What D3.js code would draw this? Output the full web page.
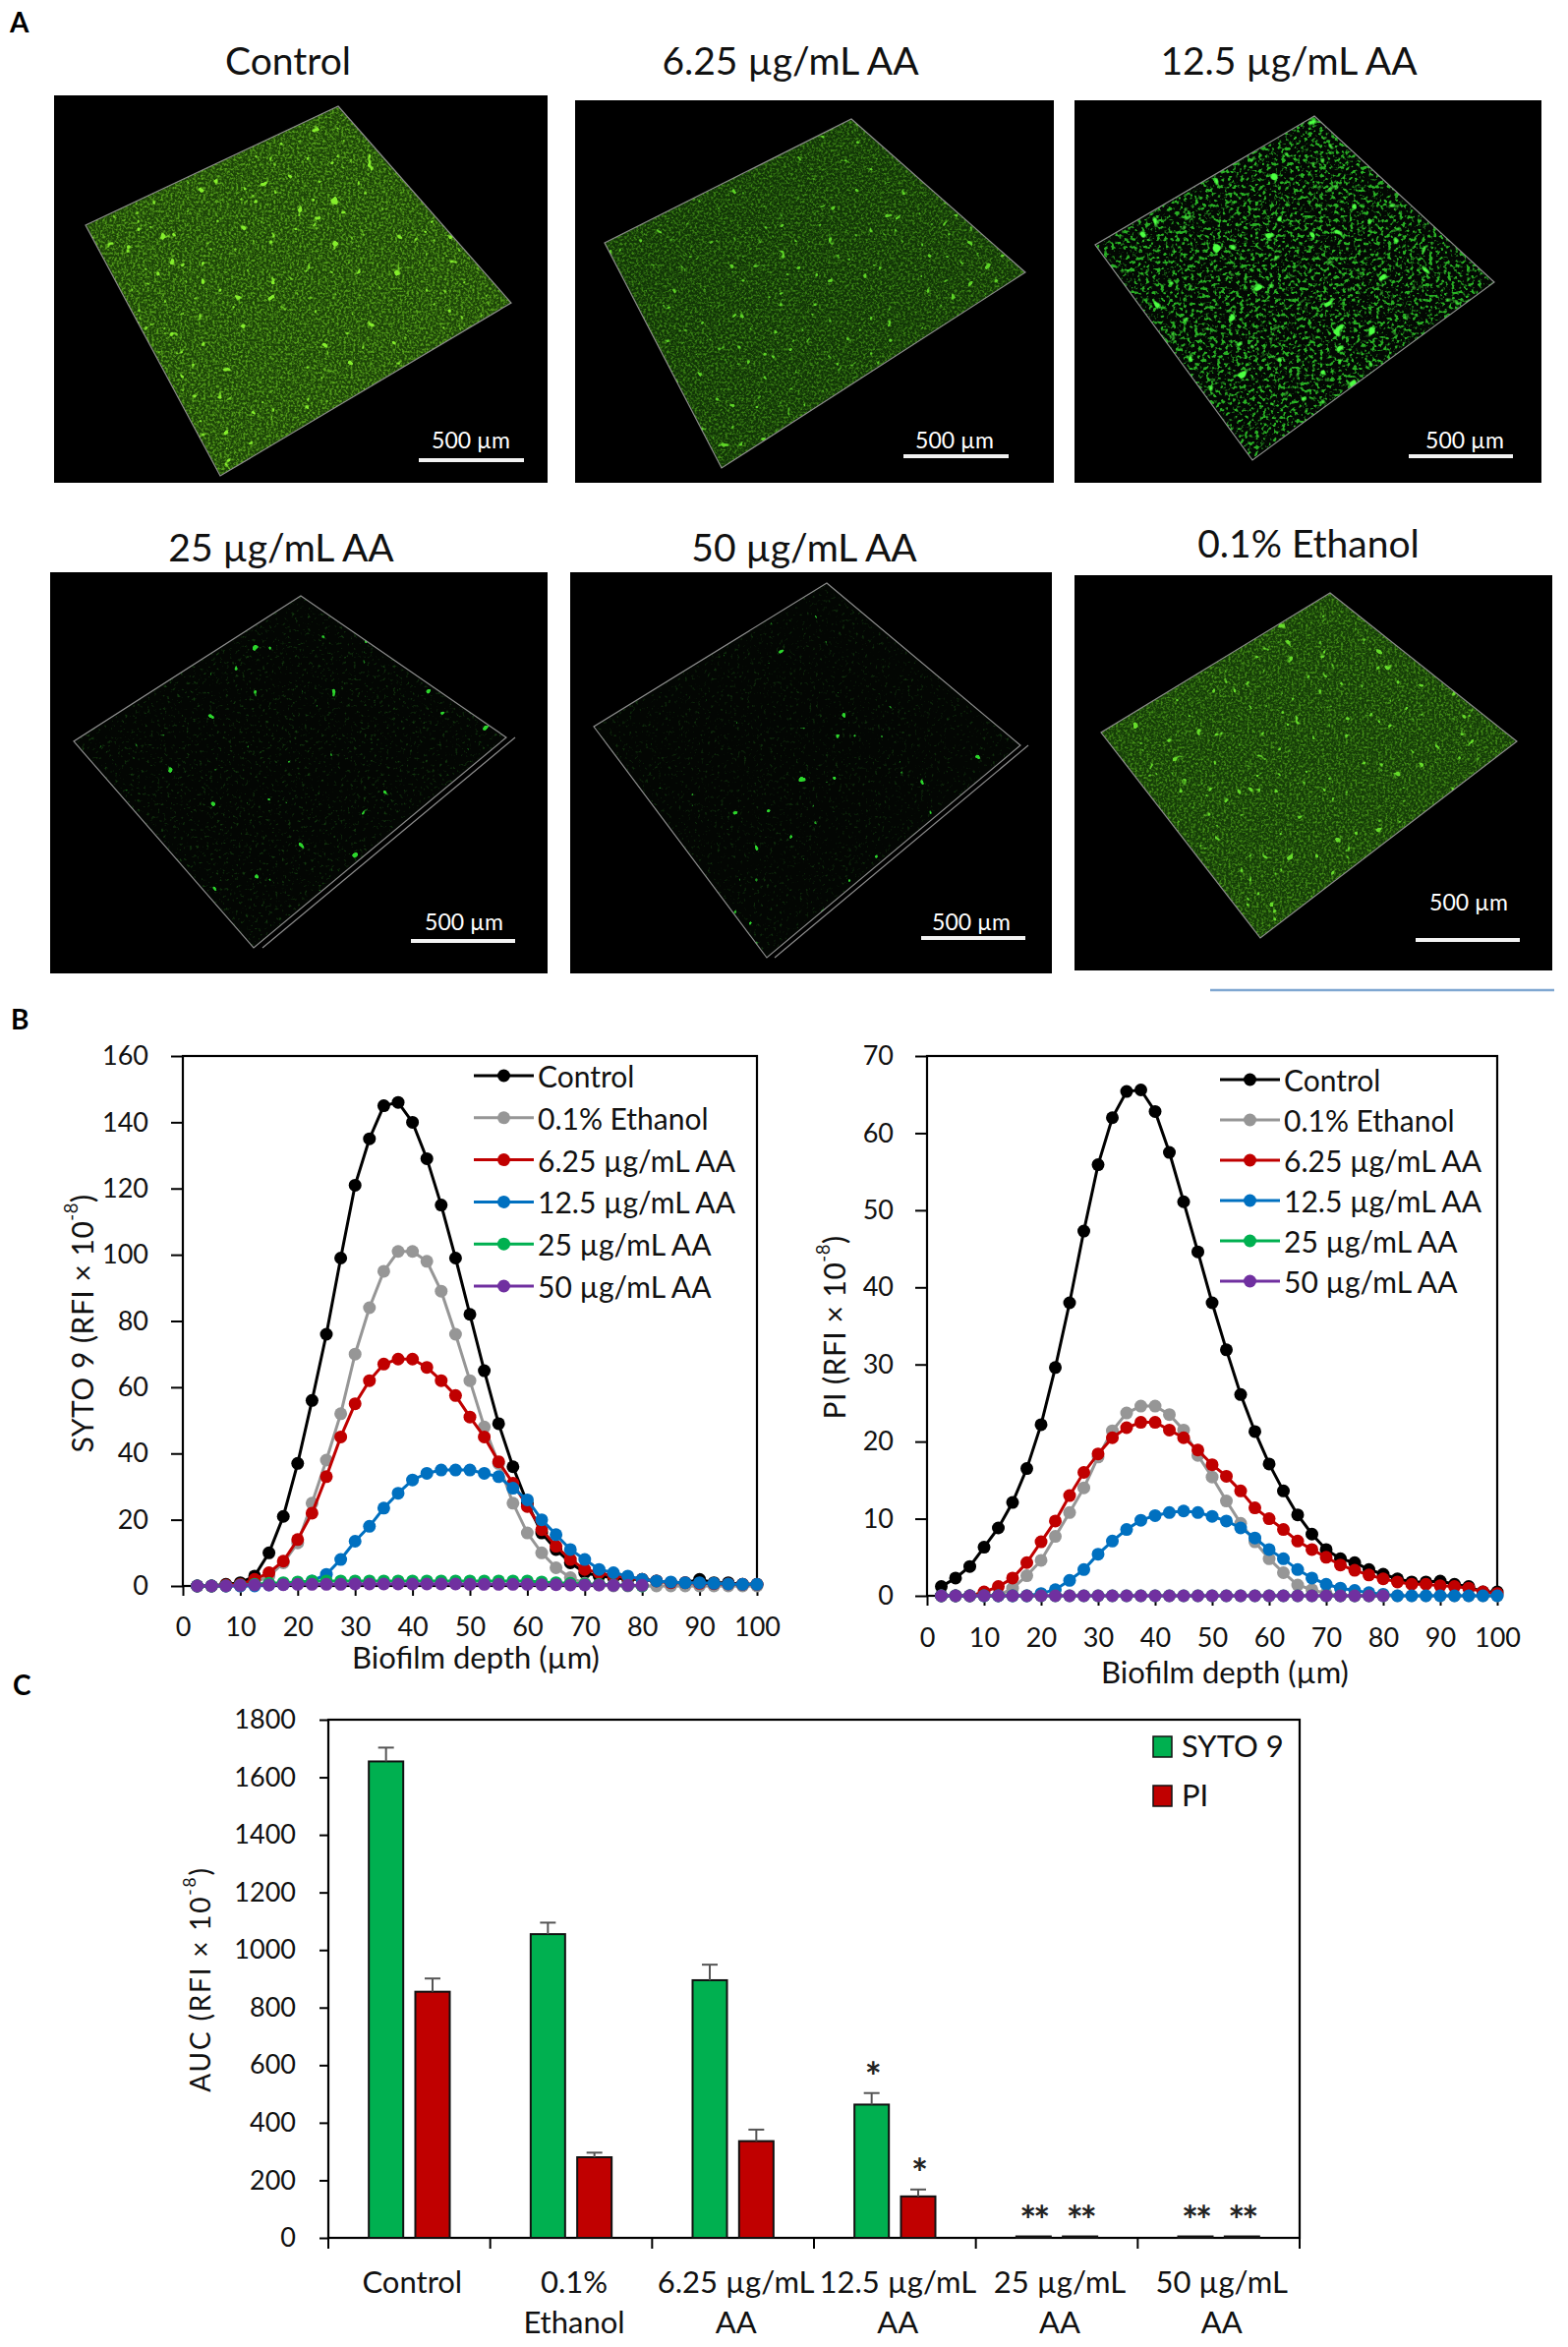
<!DOCTYPE html>
<html>
<head>
<meta charset="utf-8">
<script src="https://cdn.jsdelivr.net/npm/d3@7"></script>
<style>
  html, body { margin: 0; padding: 0; background: #fff; }
  svg { display: block; }
  text { font-family: Lato, "Open Sans", sans-serif; }
</style>
</head>
<body>
<div id="figure"></div>
<script>
/* ---------------------------------------------------------------
 * data
 * --------------------------------------------------------------- */

// panel A titles
const imageTitles = ["Control", "6.25 µg/mL AA", "12.5 µg/mL AA",
                     "25 µg/mL AA", "50 µg/mL AA", "0.1% Ethanol"]

// panel B : depth profiles
const depth = [2.5, 5, 7.5, 10, 12.5, 15, 17.5, 20, 22.5, 25, 27.5, 30, 32.5, 35, 37.5, 40,
               42.5, 45, 47.5, 50, 52.5, 55, 57.5, 60, 62.5, 65, 67.5, 70, 72.5, 75, 77.5, 80,
               82.5, 85, 87.5, 90, 92.5, 95, 97.5, 100]
const depthTicks = [0, 10, 20, 30, 40, 50, 60, 70, 80, 90, 100]
const sytoTicks = [0, 20, 40, 60, 80, 100, 120, 140, 160]
const piTicks = [0, 10, 20, 30, 40, 50, 60, 70]

const seriesNames = ["Control", "0.1% Ethanol", "6.25 µg/mL AA", "12.5 µg/mL AA", "25 µg/mL AA", "50 µg/mL AA"]
const seriesColors = ["#000000", "#969696", "#c00000", "#0070c0", "#00b050", "#7030a0"]

const sytoControl = [0, 0, 0.5, 1, 3, 10, 21, 37, 56, 76, 99, 121, 135, 145, 146, 140,
                     129, 115, 99, 82, 65, 49, 36, 25, 16, 11, 7, 4, 3, 2.5, 2, 2,
                     1.5, 1, 1, 2, 1, 1, 0.5, 0.5]
const sytoEthanol = [0, 0, 0, 0, 1, 3, 7, 13, 25, 38, 52, 70, 84, 95, 101, 101,
                     98, 89, 76, 62, 48, 37, 25, 16, 10, 5.5, 2.5, 0.8, 0.3, 0, 0, 0,
                     0, 0, 0, 0, 0, 0, 0, 0]
const syto625 = [0, 0, 0.3, 0.5, 2, 4, 7.5, 14, 22, 33, 45, 55, 62, 67, 68.5, 68.5,
                 66, 62, 57.5, 51, 45, 37.5, 31, 24, 17, 12, 8, 5, 4, 3, 2.5, 2,
                 1.5, 1, 1, 0.8, 0.7, 0.6, 0.5, 0.5]
const syto125 = [0, 0, 0, 0, 0, 0.3, 0.5, 0.8, 1.5, 3.5, 8, 13.5, 18, 23.5, 28, 32,
                 34, 35, 35, 35, 34, 33, 29.5, 26, 20, 15.5, 11, 8, 5, 4, 3, 2,
                 1.5, 1.2, 1, 1, 0.8, 0.6, 0.5, 0.5]
const syto25 = [0, 0, 0, 0.3, 0.5, 0.8, 1, 1.2, 1.5, 1.5, 1.5, 1.5, 1.5, 1.5, 1.5, 1.5,
                1.5, 1.5, 1.5, 1.5, 1.5, 1.5, 1.5, 1.5, 1.2, 1, 0.8, 0.6, 0.5, 0.3, 0.2, 0]
const syto50 = [0, 0, 0, 0.2, 0.3, 0.3, 0.4, 0.5, 0.5, 0.5, 0.5, 0.6, 0.6, 0.6, 0.6, 0.6,
                0.6, 0.6, 0.6, 0.5, 0.5, 0.5, 0.5, 0.5, 0.4, 0.4, 0.3, 0.3, 0.3, 0.2, 0.2, 0.2]

const piControl = [1.2, 2.3, 3.8, 6.3, 8.8, 12.1, 16.5, 22.2, 29.6, 38, 47.3, 55.9, 62, 65.4, 65.6, 62.8,
                   57.5, 51.1, 44.6, 38, 31.9, 26.1, 21.3, 17.1, 13.6, 10.5, 8, 6, 4.8, 4.3, 3.4, 2.8,
                   2.2, 1.8, 1.8, 1.9, 1.5, 1.2, 0.5, 0.5]
const piEthanol = [0, 0, 0, 0, 0, 1, 2.6, 4.6, 7.7, 10.8, 14, 18, 21.4, 23.7, 24.6, 24.6,
                   23.5, 21.5, 18.2, 15.4, 12.3, 9.4, 7, 4.8, 3, 1.4, 0.8, 0.3, 0, 0, 0, 0,
                   0, 0, 0, 0, 0, 0, 0, 0]
const pi625 = [0, 0, 0, 0.5, 1.2, 2.3, 4.3, 7, 9.7, 13, 16, 18.4, 20.5, 21.8, 22.5, 22.5,
               21.5, 20.5, 18.9, 17, 15.5, 13.6, 11.4, 10, 8.6, 7.1, 6, 5, 4, 3.3, 2.7, 2.2,
               1.8, 1.5, 1.5, 1.3, 1.2, 1, 0.5, 0.3]
const pi125 = [0, 0, 0, 0, 0, 0, 0, 0.3, 0.8, 2, 3.4, 5.4, 7.1, 8.6, 9.8, 10.4,
               10.8, 11, 10.8, 10.3, 9.7, 8.8, 7.5, 6, 4.8, 3.4, 2.3, 1.5, 1, 0.7, 0.4, 0.2,
               0, 0, 0, 0, 0, 0, 0, 0]
const pi25 = [0, 0, 0, 0, 0, 0, 0, 0, 0, 0, 0, 0, 0, 0, 0, 0,
              0, 0, 0, 0, 0, 0, 0, 0, 0, 0, 0, 0, 0, 0, 0, 0]
const pi50 = [0, 0, 0, 0, 0, 0, 0, 0, 0, 0, 0, 0, 0, 0, 0, 0,
              0, 0, 0, 0, 0, 0, 0, 0, 0, 0, 0, 0, 0, 0, 0, 0]

// panel C : area under curve
const aucGroups = ["Control", "0.1% Ethanol", "6.25 µg/mL AA", "12.5 µg/mL AA", "25 µg/mL AA", "50 µg/mL AA"]
const aucGroupLines = [["Control"], ["0.1%", "Ethanol"], ["6.25 µg/mL", "AA"],
                       ["12.5 µg/mL", "AA"], ["25 µg/mL", "AA"], ["50 µg/mL", "AA"]]
const aucTicks = [0, 200, 400, 600, 800, 1000, 1200, 1400, 1600, 1800]
const aucSyto = [1655, 1055, 895, 463, 5, 5]
const aucSytoErr = [48, 40, 54, 40, 0, 0]
const aucPi = [855, 280, 336, 144, 5, 5]
const aucPiErr = [46, 16, 40, 24, 0, 0]
const sigSyto = ["", "", "", "*", "**", "**"]
const sigPi = ["", "", "", "*", "**", "**"]

/* ---------------------------------------------------------------
 * page
 * --------------------------------------------------------------- */
const W = 1595, H = 2387
const ink = "#111"

const svg = d3.select("#figure").append("svg")
    .attr("width", W)
    .attr("height", H)

const defs = svg.append("defs")

function panelLetter(letter, x, y) {
    svg.append("text")
        .attr("x", x).attr("y", y)
        .attr("font-family", "'Liberation Sans', Arial, sans-serif")
        .attr("font-weight", "bold")
        .attr("font-size", 28)
        .attr("fill", "#000")
        .text(letter)
}

/* ---------------------------------------------------------------
 * panel A : confocal renderings (drawn as textured tiles)
 * --------------------------------------------------------------- */
panelLetter("A", 10, 33)

// tile layout in the figure
const tiles = [
    { box: [55, 97, 557, 491], tx: 293, ty: 76, quad: [[344, 108], [520, 308], [224, 484], [87, 229]],
      bar: [426, 533, 468], lbl: [479, 456], tex: "control" },
    { box: [585, 102, 1072, 491], tx: 804, ty: 76, quad: [[866, 121], [1043, 277], [734, 476], [615, 247]],
      bar: [919, 1026, 464], lbl: [971, 456], tex: "aa625" },
    { box: [1093, 102, 1568, 491], tx: 1311, ty: 76, quad: [[1337, 118], [1520, 287], [1274, 468], [1114, 249]],
      bar: [1433, 1539, 464], lbl: [1490, 456], tex: "aa125" },
    { box: [51, 582, 557, 990], tx: 286, ty: 571, quad: [[306, 606], [515, 750], [258, 964], [75, 754]],
      bar: [418, 524, 957], lbl: [472, 946], tex: "aa25", depthEdge: [9, 0] },
    { box: [580, 582, 1070, 990], tx: 818, ty: 571, quad: [[841, 593], [1038, 758], [780, 974], [604, 739]],
      bar: [937, 1043, 954], lbl: [988, 946], tex: "aa50", depthEdge: [8, 0] },
    { box: [1093, 585, 1579, 987], tx: 1331, ty: 567, quad: [[1353, 603], [1543, 754], [1282, 954], [1120, 745]],
      bar: [1440, 1546, 956], lbl: [1494, 926], tex: "ethanol" }
]

// texture looks: base colour, fine speckle, sparse bright cells
const textures = {
    control: { base: "#1d4508", fine: "#55a01a", f1: 0.42, k1: 3.2, c1: -1.35, spot: "#86ee2c", f2: 0.11, k2: 14, c2: -9.9, seed: 3 },
    aa625:   { base: "#123607", fine: "#3c8614", f1: 0.42, k1: 3.2, c1: -1.4, spot: "#5ed426", f2: 0.12, k2: 14, c2: -10.1, seed: 7 },
    aa125:   { base: "#030803", fine: "#28b024", f1: 0.26, k1: 6.0, c1: -3.1, spot: "#4cff42", f2: 0.07, k2: 12, c2: -8.4, seed: 11 },
    aa25:    { base: "#030603", fine: "#123a0e", f1: 0.30, k1: 5.0, c1: -3.1, spot: "#2cd62c", f2: 0.09, k2: 22, c2: -17.2, seed: 5 },
    aa50:    { base: "#030603", fine: "#0f300c", f1: 0.30, k1: 5.0, c1: -3.1, spot: "#2cd62c", f2: 0.09, k2: 24, c2: -19.0, seed: 9 },
    ethanol: { base: "#163e08", fine: "#438e16", f1: 0.42, k1: 3.2, c1: -1.4, spot: "#66dc2a", f2: 0.12, k2: 14, c2: -10.0, seed: 13 }
}

function rgbParts(hex) {
    const c = d3.rgb(hex)
    return [c.r / 255, c.g / 255, c.b / 255]
}

function makeTexture(id, t, box) {
    const f = defs.append("filter")
        .attr("id", id)
        .attr("filterUnits", "userSpaceOnUse")
        .attr("x", box[0]).attr("y", box[1])
        .attr("width", box[2] - box[0]).attr("height", box[3] - box[1])
        .attr("color-interpolation-filters", "sRGB")

    f.append("feFlood").attr("flood-color", t.base).attr("result", "bg")

    const a = rgbParts(t.fine)
    f.append("feTurbulence").attr("type", "fractalNoise")
        .attr("baseFrequency", t.f1).attr("numOctaves", 2).attr("seed", t.seed).attr("result", "n1")
    f.append("feColorMatrix").attr("in", "n1").attr("type", "matrix")
        .attr("values", `0 0 0 0 ${a[0]}  0 0 0 0 ${a[1]}  0 0 0 0 ${a[2]}  ${t.k1} 0 0 0 ${t.c1}`)
        .attr("result", "s1")

    const b = rgbParts(t.spot)
    f.append("feTurbulence").attr("type", "fractalNoise")
        .attr("baseFrequency", t.f2).attr("numOctaves", 2).attr("seed", t.seed + 1).attr("result", "n2")
    f.append("feColorMatrix").attr("in", "n2").attr("type", "matrix")
        .attr("values", `0 0 0 0 ${b[0]}  0 0 0 0 ${b[1]}  0 0 0 0 ${b[2]}  ${t.k2} 0 0 0 ${t.c2}`)
        .attr("result", "s2")

    const m = f.append("feMerge").attr("result", "m")
    m.append("feMergeNode").attr("in", "bg")
    m.append("feMergeNode").attr("in", "s1")
    m.append("feMergeNode").attr("in", "s2")
    f.append("feComposite").attr("in", "m").attr("in2", "SourceGraphic").attr("operator", "in")
}

const tileG = svg.append("g").attr("id", "panelA")

tiles.forEach((t, i) => {
    const [x0, y0, x1, y1] = t.box
    tileG.append("text")
        .attr("x", t.tx).attr("y", t.ty)
        .attr("text-anchor", "middle")
        .attr("font-size", 39)
        .attr("fill", ink)
        .text(imageTitles[i])

    tileG.append("rect")
        .attr("x", x0).attr("y", y0)
        .attr("width", x1 - x0).attr("height", y1 - y0)
        .attr("fill", "#000")

    const fid = "tex-" + t.tex
    makeTexture(fid, textures[t.tex], t.box)
    const pts = t.quad.map(p => p.join(",")).join(" ")
    tileG.append("polygon")
        .attr("points", pts)
        .attr("fill", "#000")
        .attr("filter", `url(#${fid})`)
    tileG.append("polygon")
        .attr("points", pts)
        .attr("fill", "none")
        .attr("stroke", "#8c8c8c")
        .attr("stroke-width", 1.2)

    if (t.depthEdge) {
        const [dx, dy] = t.depthEdge
        tileG.append("line")
            .attr("x1", t.quad[2][0] + dx).attr("y1", t.quad[2][1] + dy)
            .attr("x2", t.quad[1][0] + dx).attr("y2", t.quad[1][1] + dy)
            .attr("stroke", "#8c8c8c").attr("stroke-width", 1.2)
    }

    // scale bar
    tileG.append("line")
        .attr("x1", t.bar[0]).attr("x2", t.bar[1])
        .attr("y1", t.bar[2]).attr("y2", t.bar[2])
        .attr("stroke", "#f2f2f2").attr("stroke-width", 4)
    tileG.append("text")
        .attr("x", t.lbl[0]).attr("y", t.lbl[1])
        .attr("text-anchor", "middle")
        .attr("font-size", 23)
        .attr("fill", "#fff")
        .text("500 µm")
})

// stray rule under the last tile
svg.append("line")
    .attr("x1", 1231).attr("x2", 1581)
    .attr("y1", 1007).attr("y2", 1007)
    .attr("stroke", "#7fa7d1").attr("stroke-width", 2.5)

/* ---------------------------------------------------------------
 * panel B : depth profiles
 * --------------------------------------------------------------- */
panelLetter("B", 11, 1047)

function rotatedTitle(g, x, y, label, size, spacing) {
    const t = g.append("text")
        .attr("transform", `translate(${x},${y}) rotate(-90)`)
        .attr("text-anchor", "middle")
        .attr("dominant-baseline", "central")
        .attr("font-size", size)
        .attr("letter-spacing", spacing)
        .attr("fill", ink)
    t.append("tspan").text(label + " (RFI × 10")
    t.append("tspan").attr("font-size", size * 0.62).attr("dy", -size * 0.38).text("-8")
    t.append("tspan").attr("dy", size * 0.38).text(")")
    return t
}

function styleAxis(a, size) {
    a.select(".domain").remove()
    a.selectAll(".tick line").attr("stroke", "#000").attr("stroke-width", 2)
    a.selectAll(".tick text")
        .attr("fill", ink)
        .attr("font-size", size)
        .attr("font-family", "Lato, 'Open Sans', sans-serif")
}

function profileChart(cfg) {
    const g = svg.append("g")

    const x = d3.scaleLinear().domain([0, 100]).range([cfg.left, cfg.right])
    const y = d3.scaleLinear().domain([0, cfg.ymax]).range([cfg.bottom, cfg.top])

    const xa = g.append("g")
        .attr("transform", `translate(0,${cfg.bottom})`)
        .call(d3.axisBottom(x).tickValues(depthTicks).tickSize(10).tickPadding(cfg.xpad).tickSizeOuter(0))
    styleAxis(xa, 27)

    const ya = g.append("g")
        .attr("transform", `translate(${cfg.left},0)`)
        .call(d3.axisLeft(y).tickValues(cfg.ticks).tickSize(12).tickPadding(cfg.ypad).tickSizeOuter(0))
    styleAxis(ya, 27)

    g.append("rect")
        .attr("x", cfg.left).attr("y", cfg.top)
        .attr("width", cfg.right - cfg.left).attr("height", cfg.bottom - cfg.top)
        .attr("fill", "none").attr("stroke", "#000").attr("stroke-width", 2.2)

    const line = d3.line().x(d => x(d[0])).y(d => y(d[1]))

    cfg.series.forEach((vals, k) => {
        const pts = vals.map((v, i) => [depth[i], v])
        g.append("path")
            .datum(pts)
            .attr("d", line)
            .attr("fill", "none")
            .attr("stroke", seriesColors[k])
            .attr("stroke-width", 3)
        g.append("g").selectAll("circle")
            .data(pts)
            .join("circle")
            .attr("cx", d => x(d[0]))
            .attr("cy", d => y(d[1]))
            .attr("r", 6.5)
            .attr("fill", seriesColors[k])
    })

    // legend
    const lg = g.append("g")
    seriesNames.forEach((name, k) => {
        const ly = cfg.legY + k * cfg.legStep
        lg.append("line")
            .attr("x1", cfg.legX).attr("x2", cfg.legX + 61)
            .attr("y1", ly).attr("y2", ly)
            .attr("stroke", seriesColors[k]).attr("stroke-width", 3)
        lg.append("circle")
            .attr("cx", cfg.legX + 30.5).attr("cy", ly).attr("r", 6.5)
            .attr("fill", seriesColors[k])
        lg.append("text")
            .attr("x", cfg.legX + 65).attr("y", ly)
            .attr("dominant-baseline", "central")
            .attr("font-size", 30)
            .attr("fill", ink)
            .text(name)
    })

    g.append("text")
        .attr("x", cfg.titleX).attr("y", cfg.titleY)
        .attr("text-anchor", "middle")
        .attr("font-size", 31)
        .attr("fill", ink)
        .text("Biofilm depth  (µm)")

    rotatedTitle(g, cfg.ytX, cfg.ytY, cfg.ylabel, 30, 0.5)
}

profileChart({
    left: 186, right: 770, top: 1074, bottom: 1613, ymax: 160, ticks: sytoTicks, xpad: 22, ypad: 23,
    series: [sytoControl, sytoEthanol, syto625, syto125, syto25, syto50],
    legX: 482, legY: 1094, legStep: 42.8,
    titleX: 484, titleY: 1697, ytX: 83, ytY: 1346, ylabel: "SYTO 9"
})

profileChart({
    left: 943, right: 1523, top: 1074, bottom: 1623, ymax: 70, ticks: piTicks, xpad: 23, ypad: 22,
    series: [piControl, piEthanol, pi625, pi125, pi25, pi50],
    legX: 1241, legY: 1098, legStep: 41,
    titleX: 1246, titleY: 1712, ytX: 848, ytY: 1350, ylabel: "PI"
})

/* ---------------------------------------------------------------
 * panel C : AUC bars
 * --------------------------------------------------------------- */
panelLetter("C", 13, 1724)

const cLeft = 334, cRight = 1322, cTop = 1749, cBottom = 2276
const green = "#00b050", red = "#c00000"

const cg = svg.append("g").attr("id", "panelC")

const xGroup = d3.scaleBand().domain(aucGroups).range([cLeft, cRight]).padding(0)
const xInner = d3.scaleBand().domain(["syto", "pi"])
    .range([xGroup.bandwidth() * 0.25, xGroup.bandwidth() * 0.75])
    .paddingInner(0.26)
const yAuc = d3.scaleLinear().domain([0, 1800]).range([cBottom, cTop])

const cya = cg.append("g")
    .attr("transform", `translate(${cLeft},0)`)
    .call(d3.axisLeft(yAuc).tickValues(aucTicks).tickFormat(d3.format("d"))
        .tickSize(9).tickPadding(24).tickSizeOuter(0))
styleAxis(cya, 27)

// group boundary ticks
const boundaries = aucGroups.map(d => xGroup(d)).concat([cRight])
cg.append("g").selectAll("line")
    .data(boundaries)
    .join("line")
    .attr("x1", d => d).attr("x2", d => d)
    .attr("y1", cBottom).attr("y2", cBottom + 11)
    .attr("stroke", "#000").attr("stroke-width", 2)

cg.append("rect")
    .attr("x", cLeft).attr("y", cTop)
    .attr("width", cRight - cLeft).attr("height", cBottom - cTop)
    .attr("fill", "none").attr("stroke", "#000").attr("stroke-width", 2.2)

const barRows = aucGroups.map((g, i) => ([
    { group: g, key: "syto", v: aucSyto[i], e: aucSytoErr[i], sig: sigSyto[i], color: green },
    { group: g, key: "pi", v: aucPi[i], e: aucPiErr[i], sig: sigPi[i], color: red }
])).flat()

const bx = d => xGroup(d.group) + xInner(d.key)
const bw = xInner.bandwidth()

cg.append("g").selectAll("rect")
    .data(barRows)
    .join("rect")
    .attr("x", bx)
    .attr("y", d => yAuc(d.v))
    .attr("width", bw)
    .attr("height", d => cBottom - yAuc(d.v))
    .attr("fill", d => d.color)
    .attr("stroke", "#111")
    .attr("stroke-width", 2)

// error bars (upper only)
const errs = barRows.filter(d => d.e > 0)
const eg = cg.append("g").attr("stroke", "#555").attr("stroke-width", 2)
eg.selectAll(".stem")
    .data(errs)
    .join("line")
    .attr("class", "stem")
    .attr("x1", d => bx(d) + bw / 2).attr("x2", d => bx(d) + bw / 2)
    .attr("y1", d => yAuc(d.v)).attr("y2", d => yAuc(d.v + d.e))
eg.selectAll(".cap")
    .data(errs)
    .join("line")
    .attr("class", "cap")
    .attr("x1", d => bx(d) + bw / 2 - 8).attr("x2", d => bx(d) + bw / 2 + 8)
    .attr("y1", d => yAuc(d.v + d.e)).attr("y2", d => yAuc(d.v + d.e))

// significance marks
cg.append("g").selectAll("text")
    .data(barRows.filter(d => d.sig))
    .join("text")
    .attr("x", d => bx(d) + bw / 2)
    .attr("y", d => yAuc(d.v + d.e) - 2)
    .attr("text-anchor", "middle")
    .attr("font-family", "'DejaVu Sans', sans-serif")
    .attr("font-size", 40)
    .attr("font-weight", "bold")
    .attr("letter-spacing", -3)
    .attr("fill", "#222")
    .text(d => d.sig)

// category labels
aucGroupLines.forEach((lines, i) => {
    const cx = xGroup(aucGroups[i]) + xGroup.bandwidth() / 2 + 3
    lines.forEach((ln, j) => {
        cg.append("text")
            .attr("x", cx).attr("y", 2332 + j * 41)
            .attr("text-anchor", "middle")
            .attr("font-size", 31)
            .attr("fill", ink)
            .text(ln)
    })
})

// legend
const legendRows = [{ name: "SYTO 9", color: green }, { name: "PI", color: red }]
legendRows.forEach((d, k) => {
    const ly = 1766 + k * 50
    cg.append("rect")
        .attr("x", 1173).attr("y", ly)
        .attr("width", 19).attr("height", 21)
        .attr("fill", d.color).attr("stroke", "#111").attr("stroke-width", 1.5)
    cg.append("text")
        .attr("x", 1202).attr("y", ly + 21)
        .attr("font-size", 31)
        .attr("fill", ink)
        .text(d.name)
})

rotatedTitle(cg, 203, 2013, "AUC", 28, 1.8)
</script>
</body>
</html>
